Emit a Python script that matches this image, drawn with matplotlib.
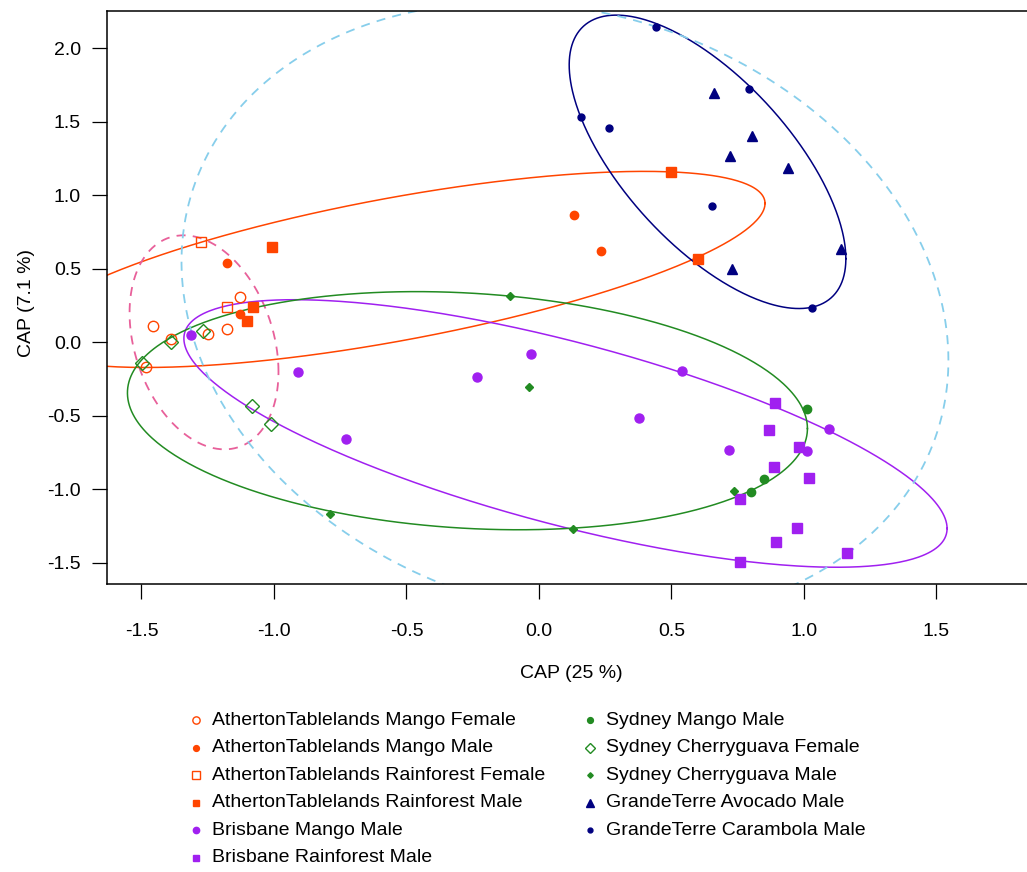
import numpy as np
import matplotlib
matplotlib.use("Agg")
import matplotlib.pyplot as plt
from matplotlib.lines import Line2D

plt.rcParams['font.family'] = ['Liberation Sans', 'DejaVu Sans']
plt.rcParams['axes.unicode_minus'] = False

# CAP scores per group
ath_mango_f_x = [-1.458, -1.390, -1.248, -1.177, -1.128, -1.484]
ath_mango_f_y = [0.111, 0.020, 0.056, 0.088, 0.308, -0.168]
ath_mango_m_x = [-1.177, -1.128, 0.132, 0.233]
ath_mango_m_y = [0.541, 0.193, 0.866, 0.619]
ath_rain_f_x = [-1.275, -1.178]
ath_rain_f_y = [0.680, 0.240]
ath_rain_m_x = [-1.006, -1.079, -1.102, 0.497, 0.601]
ath_rain_m_y = [0.646, 0.242, 0.145, 1.161, 0.565]
bris_mango_x = [-1.314, -0.911, -0.729, -0.234, -0.031, 0.378, 0.540, 0.717, 1.095, 1.011]
bris_mango_y = [0.052, -0.204, -0.660, -0.238, -0.080, -0.513, -0.197, -0.729, -0.590, -0.737]
bris_rain_x = [0.892, 0.867, 0.982, 0.887, 1.018, 0.758, 0.975, 0.895, 1.163, 0.757]
bris_rain_y = [-0.415, -0.597, -0.710, -0.850, -0.925, -1.068, -1.261, -1.356, -1.435, -1.493]
syd_mango_x = [1.010, 0.850, 0.799]
syd_mango_y = [-0.454, -0.932, -1.016]
syd_cherry_f_x = [-1.499, -1.389, -1.267, -1.084, -1.012]
syd_cherry_f_y = [-0.143, 0.004, 0.077, -0.431, -0.558]
syd_cherry_m_x = [-0.111, -0.037, -0.789, 0.128, 0.735]
syd_cherry_m_y = [0.317, -0.302, -1.168, -1.272, -1.012]
gt_avocado_x = [0.660, 0.804, 0.721, 0.940, 1.140, 0.729]
gt_avocado_y = [1.694, 1.403, 1.269, 1.186, 0.637, 0.497]
gt_carambola_x = [0.440, 0.794, 0.158, 0.263, 0.652, 1.031]
gt_carambola_y = [2.147, 1.721, 1.535, 1.460, 0.927, 0.231]

labels = ["AthertonTablelands Mango Female", "AthertonTablelands Mango Male",
          "AthertonTablelands Rainforest Female", "AthertonTablelands Rainforest Male",
          "Brisbane Mango Male", "Brisbane Rainforest Male",
          "Sydney Mango Male", "Sydney Cherryguava Female", "Sydney Cherryguava Male",
          "GrandeTerre Avocado Male", "GrandeTerre Carambola Male"]
xs = [ath_mango_f_x, ath_mango_m_x, ath_rain_f_x, ath_rain_m_x, bris_mango_x, bris_rain_x,
      syd_mango_x, syd_cherry_f_x, syd_cherry_m_x, gt_avocado_x, gt_carambola_x]
ys = [ath_mango_f_y, ath_mango_m_y, ath_rain_f_y, ath_rain_m_y, bris_mango_y, bris_rain_y,
      syd_mango_y, syd_cherry_f_y, syd_cherry_m_y, gt_avocado_y, gt_carambola_y]

ath, bris, syd, gt = '#FF4500', '#A020F0', '#228B22', '#000080'
colors = [ath, ath, ath, ath, bris, bris, syd, syd, syd, gt, gt]
markers = ['o', 'o', 's', 's', 'o', 's', 'o', 'D', 'D', '^', 'o']
filled = [False, True, False, True, True, True, True, False, True, True, True]
sizes = [7.5, 6, 7.5, 6.5, 6.5, 6.5, 6, 7.5, 4, 7.5, 5]

# ellipses: x = cx + rx*cos(t), y = cy + ry*cos(t - acos(c))
ell_cx = [-0.5435, -1.264, 0.10, -0.27, 0.636, 0.098]
ell_cy = [0.496, 0.0, -0.62, -0.465, 1.228, 0.213]
ell_rx = [1.3965, 0.281, 1.44, 1.283, 0.522, 1.447]
ell_ry = [0.667, 0.728, 0.91, 0.81, 0.998, 2.10]
ell_c = [0.673, -0.275, -0.71, -0.15, -0.66, -0.16]
ell_colors = [ath, '#E8609A', bris, syd, gt, '#87CEEB']
ell_dashed = [False, True, False, False, False, True]

fig = plt.figure(figsize=(10.27, 8.72), dpi=100)
W, H = 1027, 872
ax = fig.add_axes([107.3 / W, (H - 584.3) / H, (W - 107.3) / W, (584.3 - 11) / H])

t = np.linspace(0, 2 * np.pi, 500)
for cx, cy, rx, ry, c, col, dash in zip(ell_cx, ell_cy, ell_rx, ell_ry, ell_c,
                                         ell_colors, ell_dashed):
    d = np.arccos(c)
    ls = (0, (5, 4)) if dash else '-'
    ax.plot(cx + rx * np.cos(t), cy + ry * np.cos(t - d), color=col,
            lw=1.3 if dash else 1.1, ls=ls, zorder=2)

for x, y, col, m, f, s in zip(xs, ys, colors, markers, filled, sizes):
    ax.plot(x, y, ls='none', marker=m, ms=s, color=col,
            mfc=col if f else 'none', mec=col, mew=1.0, zorder=3)

ax.set_xlim(-1.629, -1.629 + (W - 107.3) / 265)
ax.set_ylim(-1.646, 2.254)
ax.set_xticks([-1.5, -1.0, -0.5, 0.0, 0.5, 1.0, 1.5])
ax.set_yticks([-1.5, -1.0, -0.5, 0.0, 0.5, 1.0, 1.5, 2.0])
ax.xaxis.set_major_formatter(matplotlib.ticker.FormatStrFormatter('%.1f'))
ax.yaxis.set_major_formatter(matplotlib.ticker.FormatStrFormatter('%.1f'))
ax.tick_params(direction='out', length=11, width=0.9, labelsize=14, pad=8)
ax.tick_params(axis='x', pad=17)
ax.spines['right'].set_visible(False)
for sp in ['left', 'top', 'bottom']:
    ax.spines[sp].set_linewidth(1.1)

ax.set_xlabel("CAP (25 %)", fontsize=14)
ax.set_ylabel("CAP (7.1 %)", fontsize=14)
ax.xaxis.set_label_coords(0.505, -0.14)
ax.yaxis.set_label_coords(-0.0786, 0.49)

# legend, two columns under the plot
for i, (lab, col, m, f, s) in enumerate(zip(labels, colors, markers, filled, sizes)):
    c, r = divmod(i, 6)
    mx = [196, 590][c]
    yy = 720 + r * 27.5
    fig.add_artist(Line2D([mx / W], [1 - yy / H], ls='none', marker=m, ms=s * 0.7,
                          color=col, mfc=col if f else 'none', mec=col, mew=1.0,
                          transform=fig.transFigure))
    fig.text((mx + 16) / W, 1 - yy / H, lab, fontsize=14, va='center', ha='left')

fig.savefig("out.png", dpi=100)
